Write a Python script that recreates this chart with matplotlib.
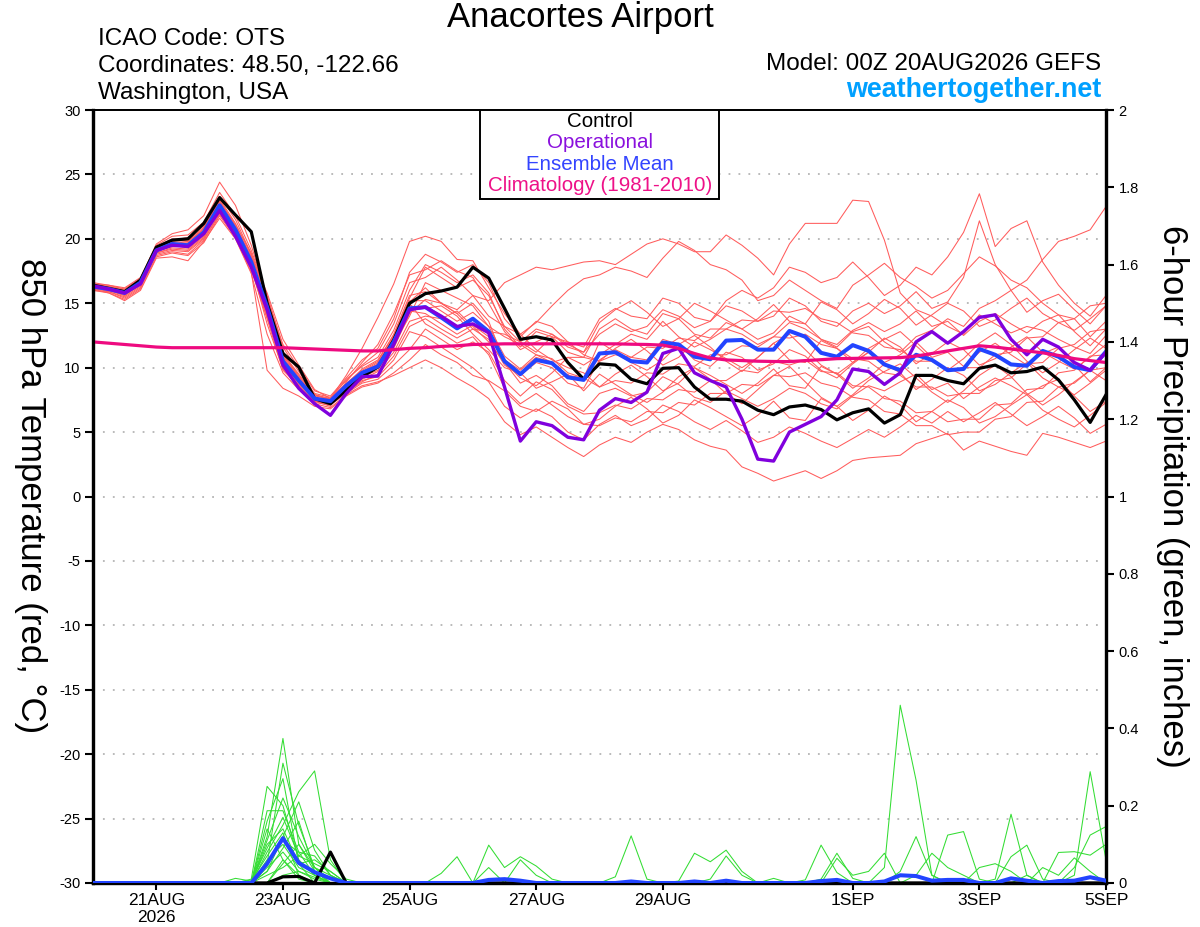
import matplotlib
matplotlib.use("Agg")
import matplotlib.pyplot as plt
from matplotlib.patches import Rectangle
import numpy as np

plt.rcParams['font.family'] = ['Liberation Sans', 'DejaVu Sans']
plt.rcParams['axes.unicode_minus'] = False

# x axis: days since 00Z 20AUG2026, 6-hourly steps
tick_days = [1, 3, 5, 7, 9, 12, 14, 16]
tick_labels = ["21AUG\n2026", "23AUG", "25AUG", "27AUG", "29AUG", "1SEP", "3SEP", "5SEP"]

temp_ticks = list(range(-30, 31, 5))
precip_ticks = [0, 0.2, 0.4, 0.6, 0.8, 1.0, 1.2, 1.4, 1.6, 1.8, 2.0]
precip_tick_labels = ["0", "0.2", "0.4", "0.6", "0.8", "1", "1.2", "1.4", "1.6", "1.8", "2"]

# 850 hPa temperature (C)
control = [16.4, 16.15, 15.9, 16.8, 19.35, 19.9, 20.0, 21.2, 23.2, 21.85, 20.55, 15.0, 11.1, 10.05, 7.6, 7.2,
           8.25, 9.3, 10.05, 12.15, 15.0, 15.75, 15.95, 16.25, 17.8, 16.95, 14.6, 12.2, 12.4, 12.15, 10.4, 9.1,
           10.3, 10.2, 9.1, 8.75, 9.95, 10.0, 8.5, 7.55, 7.55, 7.4, 6.7, 6.35, 6.95, 7.1, 6.75, 5.95,
           6.5, 6.8, 5.7, 6.35, 9.4, 9.4, 9.0, 8.75, 9.95, 10.2, 9.6, 9.7, 10.05, 9.05, 7.5, 5.75, 7.9]

operational = [16.35, 16.1, 15.8, 16.5, 19.1, 19.5, 19.4, 20.4, 22.2, 20.2, 17.8, 14.5, 10.2, 8.4, 7.2, 6.3,
               8.0, 9.3, 9.35, 11.8, 14.5, 14.7, 14.0, 13.2, 13.4, 12.7, 8.5, 4.3, 5.8, 5.5, 4.6, 4.4,
               6.7, 7.6, 7.3, 8.1, 11.1, 11.5, 9.6, 9.0, 8.5, 6.0, 2.9, 2.75, 5.0, 5.6, 6.2, 7.5,
               9.9, 9.7, 8.7, 9.6, 12.0, 12.8, 11.9, 12.8, 13.9, 14.1, 12.2, 11.0, 12.2, 11.6, 10.4, 9.8, 11.2]

ens_mean = [16.3, 16.1, 15.8, 16.6, 19.1, 19.6, 19.5, 20.5, 22.6, 20.7, 18.2, 14.7, 10.5, 9.0, 7.6, 7.4,
            8.6, 9.6, 10.1, 12.0, 14.6, 14.7, 13.9, 13.05, 13.8, 12.8, 10.5, 9.5, 10.6, 10.35, 9.25, 9.05,
            11.1, 11.2, 10.5, 10.4, 11.95, 11.8, 10.85, 10.65, 12.1, 12.15, 11.4, 11.4, 12.85, 12.4, 11.15, 10.85,
            11.75, 11.3, 10.25, 9.8, 11.0, 10.6, 9.8, 9.9, 11.45, 11.0, 10.25, 10.15, 11.3, 10.85, 10.05, 9.8, 11.25]

climatology = [12.0, 11.9, 11.8, 11.7, 11.6, 11.55, 11.55, 11.55, 11.55, 11.55, 11.55, 11.55, 11.55, 11.5, 11.45, 11.4,
               11.35, 11.3, 11.3, 11.4, 11.5, 11.55, 11.65, 11.7, 11.8, 11.82, 11.85, 11.85, 11.85, 11.85, 11.85, 11.85,
               11.85, 11.85, 11.82, 11.8, 11.75, 11.5, 11.1, 10.75, 10.6, 10.55, 10.5, 10.48, 10.47, 10.55, 10.62, 10.7,
               10.72, 10.74, 10.76, 10.78, 10.9, 11.1, 11.3, 11.5, 11.7, 11.6, 11.45, 11.3, 11.15, 10.95, 10.7, 10.55, 10.4]

members = [
    [16.4, 16.2, 15.9, 16.8, 19.3, 19.9, 20.1, 21.0, 23.3, 21.5, 18.8, 15.2, 11.0, 9.4, 7.9, 7.5,
     8.3, 9.2, 10.1, 11.5, 14.2, 15.3, 15.0, 14.5, 15.6, 15.2, 16.6, 17.2, 17.8, 17.6, 17.9, 18.2,
     18.3, 18.0, 18.8, 19.6, 20.0, 19.6, 19.0, 19.0, 20.3, 19.5, 18.5, 17.2, 19.6, 21.2, 21.2, 21.2,
     23.0, 22.9, 19.9, 15.8, 14.5, 14.0, 13.2, 12.6, 14.1, 13.4, 12.7, 13.2, 12.9, 12.2, 11.6, 11.1, 12.5],
    [16.2, 16.0, 15.6, 16.5, 19.0, 19.4, 19.6, 20.8, 23.0, 21.0, 18.6, 15.8, 12.2, 10.2, 8.3, 7.6,
     9.4, 11.5, 13.9, 16.5, 19.8, 20.2, 19.8, 18.4, 18.3, 16.2, 14.2, 12.6, 13.5, 14.8, 16.0, 16.9,
     17.2, 17.8, 17.5, 17.0, 18.5, 19.8, 19.1, 18.0, 17.6, 16.8, 15.2, 15.6, 16.8, 16.0, 15.2, 14.6,
     16.4, 17.2, 18.1, 17.0, 16.3, 15.4, 16.0, 17.3, 18.6, 17.9, 16.8, 16.2, 15.0, 14.1, 13.8, 12.4, 13.6],
    [16.5, 16.3, 16.1, 16.9, 19.6, 20.4, 20.7, 21.8, 24.4, 22.6, 19.5, 15.4, 11.3, 9.1, 7.4, 7.0,
     8.9, 10.4, 11.8, 14.2, 17.2, 17.6, 18.3, 17.5, 17.0, 15.0, 12.8, 11.4, 12.0, 12.6, 11.8, 11.2,
     12.6, 13.4, 12.8, 13.2, 14.5, 14.0, 13.1, 13.6, 15.2, 16.0, 15.4, 16.2, 17.8, 17.4, 16.6, 17.0,
     18.2, 17.0, 15.6, 16.4, 17.8, 17.2, 18.6, 20.5, 23.5, 19.4, 20.8, 21.4, 18.2, 16.4, 15.0, 14.0, 15.6],
    [16.1, 15.8, 15.2, 16.0, 18.5, 18.6, 18.3, 19.8, 21.6, 20.0, 17.3, 12.6, 9.6, 8.3, 7.2, 6.9,
     7.9, 8.6, 8.9, 9.4, 10.0, 10.6, 10.0, 9.2, 8.5, 7.6, 5.8, 4.8, 5.4, 4.6, 3.8, 3.1,
     4.0, 4.6, 4.2, 5.0, 5.6, 5.2, 4.4, 3.9, 3.6, 2.3, 1.8, 1.2, 1.6, 2.0, 1.4, 2.0,
     2.8, 3.0, 3.1, 3.2, 4.1, 4.5, 4.9, 3.6, 4.3, 3.9, 3.5, 3.2, 4.9, 4.6, 4.2, 3.8, 4.3],
    [16.3, 16.0, 15.6, 16.4, 18.8, 19.1, 19.0, 20.0, 22.0, 20.2, 17.6, 13.8, 9.8, 8.6, 7.4, 7.2,
     8.2, 9.0, 9.3, 10.6, 12.8, 12.4, 11.6, 10.8, 10.0, 8.9, 7.0, 6.1, 6.8, 6.2, 5.0, 4.4,
     5.6, 6.3, 5.5, 6.0, 7.1, 6.6, 5.8, 5.2, 5.9, 5.1, 4.2, 4.6, 5.4, 4.9, 4.3, 3.8,
     4.5, 5.2, 4.6, 5.4, 6.3, 5.7, 6.6, 5.8, 6.5, 7.3, 6.4, 5.5, 6.2, 7.0, 6.1, 4.9, 5.6],
    [16.2, 16.1, 15.9, 16.7, 19.2, 19.8, 19.9, 20.9, 22.9, 20.6, 18.0, 14.4, 10.4, 8.8, 7.6, 7.3,
     8.5, 9.4, 10.0, 12.2, 15.0, 13.4, 12.7, 11.9, 12.4, 11.0, 8.4, 7.2, 8.0, 7.1, 6.2, 5.6,
     6.0, 7.0, 7.7, 6.8, 5.7, 6.3, 7.5, 6.9, 6.2, 5.5, 6.3, 7.4, 6.1, 5.9, 7.6, 7.0,
     5.9, 6.7, 7.8, 7.1, 5.8, 6.6, 7.5, 6.9, 5.7, 6.2, 7.1, 7.9, 6.7, 6.0, 5.4, 6.3, 7.3],
    [16.4, 16.2, 16.0, 16.6, 19.0, 19.5, 19.3, 20.3, 22.4, 20.9, 18.4, 15.0, 10.8, 9.2, 7.8, 7.6,
     8.8, 9.8, 10.5, 12.6, 15.6, 15.9, 15.0, 14.2, 15.0, 13.6, 10.4, 8.8, 9.4, 8.6, 7.2, 6.6,
     8.0, 8.4, 7.8, 8.1, 9.3, 8.7, 7.7, 7.3, 8.2, 7.6, 7.0, 7.6, 8.4, 8.0, 7.2, 6.8,
     7.8, 8.6, 8.2, 8.9, 9.5, 8.3, 8.8, 7.6, 8.5, 9.2, 8.6, 7.9, 8.6, 9.1, 7.8, 6.6, 7.4],
    [16.0, 15.9, 15.5, 16.3, 18.7, 19.0, 18.8, 19.9, 21.9, 20.3, 17.8, 14.0, 10.1, 8.6, 7.3, 7.1,
     8.0, 8.8, 9.1, 10.2, 11.4, 13.0, 12.2, 11.4, 12.0, 11.2, 9.0, 7.8, 8.9, 8.3, 7.0, 6.4,
     6.5, 7.1, 6.8, 7.6, 7.5, 8.3, 8.1, 9.0, 9.0, 9.8, 9.6, 10.5, 10.2, 10.6, 9.7, 9.6,
     8.6, 8.5, 7.6, 7.4, 6.5, 6.6, 5.8, 6.0, 6.0, 7.1, 7.2, 8.3, 8.4, 9.6, 9.8, 10.9, 11.0],
    [16.3, 16.1, 15.8, 16.6, 19.1, 19.7, 19.6, 20.6, 22.7, 20.8, 18.3, 14.9, 10.6, 9.0, 7.5, 7.3,
     8.6, 9.5, 10.2, 12.1, 14.8, 14.6, 14.8, 14.0, 12.6, 11.4, 10.0, 9.6, 8.4, 8.9, 9.5, 8.2,
     9.5, 8.7, 7.9, 7.3, 8.1, 9.3, 10.0, 9.1, 8.0, 7.2, 8.3, 9.4, 10.1, 8.9, 7.7, 7.0,
     7.9, 9.0, 9.7, 10.3, 9.2, 8.1, 7.3, 8.2, 9.4, 10.2, 9.3, 8.0, 7.1, 7.9, 8.9, 9.8, 9.0],
    [16.5, 16.4, 16.2, 17.0, 19.5, 20.2, 20.3, 21.3, 23.6, 21.8, 19.1, 15.6, 11.6, 9.7, 8.0, 7.7,
     9.0, 10.2, 11.2, 13.4, 16.6, 17.0, 17.8, 16.8, 15.6, 14.0, 13.2, 12.6, 11.4, 10.6, 10.0, 9.6,
     8.5, 9.5, 10.2, 9.3, 8.2, 8.8, 10.0, 9.4, 8.7, 8.0, 8.8, 9.9, 8.6, 8.4, 10.1, 9.5,
     8.4, 9.2, 10.3, 9.6, 8.3, 9.1, 10.0, 9.4, 8.2, 8.7, 9.6, 10.4, 9.2, 8.5, 7.9, 8.8, 9.8],
    [16.2, 15.9, 15.4, 16.2, 18.9, 19.2, 19.1, 20.1, 22.2, 20.5, 17.9, 13.4, 9.9, 8.5, 7.4, 7.2,
     8.1, 8.9, 9.5, 10.9, 13.2, 13.8, 13.0, 12.3, 13.0, 12.2, 10.2, 9.4, 10.4, 10.0, 8.8, 8.4,
     10.6, 11.4, 10.8, 10.6, 12.2, 11.8, 10.6, 10.1, 11.2, 10.8, 9.8, 10.3, 11.4, 10.9, 9.8, 9.2,
     10.3, 11.2, 10.4, 11.0, 12.0, 10.8, 11.2, 10.1, 11.2, 11.9, 11.0, 10.2, 11.1, 11.6, 10.2, 8.9, 10.0],
    [16.3, 16.2, 15.9, 16.7, 19.3, 19.6, 19.8, 20.7, 22.8, 20.9, 18.5, 14.8, 10.9, 9.3, 7.9, 7.5,
     8.7, 9.7, 10.4, 12.4, 15.2, 15.2, 14.4, 13.6, 14.3, 13.2, 10.9, 9.9, 11.0, 10.7, 9.6, 9.2,
     8.5, 9.0, 8.8, 9.6, 9.5, 10.3, 10.1, 11.0, 11.0, 11.7, 11.6, 12.4, 12.3, 12.6, 11.8, 11.5,
     10.7, 10.5, 9.6, 9.4, 8.5, 8.5, 7.8, 8.0, 8.0, 9.0, 9.2, 10.3, 10.4, 11.5, 11.8, 12.8, 13.0],
    [16.4, 16.1, 15.7, 16.5, 19.0, 19.5, 19.4, 20.4, 22.5, 20.6, 18.1, 14.6, 10.3, 8.9, 7.7, 7.4,
     8.4, 9.3, 9.8, 11.6, 14.4, 14.2, 13.4, 12.6, 13.3, 12.4, 10.6, 9.8, 10.8, 10.4, 9.4, 9.2,
     12.0, 11.2, 10.4, 9.8, 10.6, 11.8, 12.5, 11.6, 10.5, 9.7, 10.8, 11.9, 12.6, 11.4, 10.2, 9.5,
     10.4, 11.5, 12.2, 12.8, 11.7, 10.6, 9.8, 10.7, 11.9, 12.7, 11.8, 10.5, 9.6, 10.4, 11.4, 12.3, 11.5],
    [16.1, 16.0, 15.8, 16.6, 19.2, 19.6, 19.5, 20.5, 22.6, 20.7, 18.2, 14.1, 10.0, 8.7, 7.5, 7.2,
     8.6, 9.6, 10.3, 12.3, 15.1, 16.2, 15.0, 14.2, 13.0, 12.8, 12.6, 12.0, 11.2, 12.4, 12.0, 11.0,
     10.5, 11.5, 12.2, 11.3, 10.2, 10.8, 12.0, 11.4, 10.7, 10.0, 10.8, 11.9, 10.6, 10.4, 12.1, 11.5,
     10.4, 11.2, 12.3, 11.6, 10.3, 11.1, 12.0, 11.4, 10.2, 10.7, 11.6, 12.4, 11.2, 10.5, 9.9, 10.8, 11.8],
    [16.6, 16.4, 16.1, 16.9, 19.4, 20.0, 20.0, 21.1, 23.1, 21.2, 18.7, 15.3, 11.1, 9.5, 7.9, 7.6,
     9.1, 10.1, 10.8, 12.9, 16.0, 18.0, 17.4, 16.6, 17.2, 15.8, 13.0, 11.6, 12.8, 12.4, 11.2, 10.8,
     13.0, 13.8, 13.0, 12.6, 14.2, 13.8, 12.6, 12.3, 13.5, 13.0, 12.2, 12.7, 14.0, 13.4, 12.2, 11.8,
     12.9, 13.5, 12.8, 13.4, 14.4, 13.2, 13.6, 12.5, 13.6, 14.2, 13.4, 12.7, 13.6, 14.1, 12.8, 11.7, 13.0],
    [16.2, 16.0, 15.7, 16.4, 18.9, 19.3, 19.2, 20.2, 22.3, 20.4, 17.7, 13.9, 10.2, 8.8, 7.6, 7.4,
     8.3, 9.1, 9.7, 11.2, 13.6, 14.0, 13.8, 14.4, 13.2, 12.0, 10.4, 9.2, 8.6, 9.6, 10.8, 10.8,
     10.5, 11.0, 10.8, 11.6, 11.5, 12.3, 12.1, 13.0, 13.0, 13.7, 13.6, 14.4, 14.3, 14.6, 13.8, 13.5,
     12.7, 12.5, 11.6, 11.4, 10.5, 10.5, 9.8, 10.0, 10.0, 11.0, 11.2, 12.3, 12.4, 13.5, 13.8, 14.8, 15.0],
    [16.3, 16.2, 15.9, 16.8, 19.4, 19.9, 19.8, 20.8, 22.9, 21.1, 18.9, 15.5, 11.8, 10.0, 8.2, 7.8,
     9.2, 10.6, 11.5, 13.8, 17.4, 18.8, 18.2, 17.4, 18.0, 16.6, 13.8, 12.4, 13.6, 13.2, 12.0, 11.6,
     13.8, 14.6, 14.0, 13.8, 15.4, 15.0, 13.9, 13.6, 14.8, 14.4, 13.6, 14.0, 15.4, 14.8, 13.6, 13.2,
     14.4, 15.0, 14.2, 14.8, 15.9, 14.6, 15.1, 17.0, 21.4, 18.0, 16.0, 14.3, 15.2, 15.7, 14.5, 13.4, 14.8],
    [16.4, 16.3, 16.0, 16.7, 19.1, 19.6, 19.7, 20.6, 22.6, 20.8, 18.4, 14.5, 10.7, 9.1, 7.7, 7.5,
     8.7, 9.9, 10.6, 12.5, 15.4, 17.8, 17.0, 16.2, 16.8, 15.6, 13.2, 12.0, 13.0, 12.6, 11.6, 11.2,
     13.5, 14.5, 15.2, 14.3, 13.2, 13.8, 15.0, 14.4, 13.7, 13.0, 13.8, 14.9, 13.6, 13.4, 15.1, 14.5,
     13.4, 14.2, 15.3, 14.6, 13.3, 14.1, 15.0, 14.4, 13.2, 13.7, 14.6, 15.4, 14.2, 13.5, 12.9, 13.8, 14.8],
    [16.0, 15.8, 15.3, 16.1, 18.6, 18.9, 18.7, 19.7, 21.8, 20.1, 17.4, 9.8, 8.4, 7.8, 7.0, 6.8,
     7.8, 8.5, 8.8, 9.6, 10.6, 11.8, 11.0, 10.4, 9.4, 9.0, 8.2, 7.0, 6.6, 7.4, 6.8, 5.6,
     5.5, 6.1, 5.8, 6.6, 6.5, 7.3, 7.1, 8.0, 8.0, 8.7, 8.6, 9.4, 9.3, 9.6, 8.8, 8.5,
     7.7, 7.5, 6.6, 6.4, 5.5, 5.5, 4.8, 5.0, 5.0, 6.0, 6.2, 7.3, 7.4, 8.5, 8.8, 9.8, 10.0],
    [16.3, 16.1, 15.8, 16.5, 19.0, 19.5, 19.5, 20.4, 22.4, 20.6, 18.3, 14.3, 10.5, 9.0, 7.6, 7.4,
     8.5, 9.4, 10.0, 11.8, 14.0, 16.6, 16.0, 15.4, 14.8, 13.2, 12.4, 11.8, 11.0, 10.4, 10.8, 10.2,
     11.0, 11.8, 12.6, 12.2, 13.6, 12.4, 11.6, 12.2, 13.0, 12.6, 11.8, 12.4, 13.5, 13.0, 12.2, 11.6,
     12.8, 13.2, 12.0, 11.2, 12.4, 12.9, 13.8, 13.2, 14.6, 15.2, 16.0, 16.8, 18.4, 19.8, 20.2, 20.7, 22.5],
]

# 6-hour precipitation (inches), only non-zero steps listed
precip_members = [
    {10: 0.01, 11: 0.25, 12: 0.2, 13: 0.06, 14: 0.02, 22: 0.025, 23: 0.068},
    {11: 0.12, 12: 0.374, 13: 0.1, 14: 0.03, 25: 0.098, 26: 0.04, 27: 0.068, 28: 0.044, 29: 0.01},
    {11: 0.05, 12: 0.31, 13: 0.15, 14: 0.04, 15: 0.01, 25: 0.04, 27: 0.06, 28: 0.02},
    {11: 0.08, 12: 0.15, 13: 0.236, 14: 0.29, 15: 0.06, 33: 0.016, 34: 0.122, 35: 0.01},
    {11: 0.187, 12: 0.187, 13: 0.08, 14: 0.02, 37: 0.005, 38: 0.077, 39: 0.055, 40: 0.085, 41: 0.03},
    {11: 0.03, 12: 0.12, 13: 0.21, 14: 0.085, 15: 0.02, 39: 0.01, 40: 0.07, 41: 0.02, 43: 0.012},
    {11: 0.1, 12: 0.14, 13: 0.05, 14: 0.06, 15: 0.03, 45: 0.008, 46: 0.098, 47: 0.027},
    {11: 0.06, 12: 0.1, 13: 0.04, 14: 0.02, 46: 0.01, 47: 0.077, 48: 0.012},
    {10: 0.005, 11: 0.09, 12: 0.17, 13: 0.07, 14: 0.05, 15: 0.03, 47: 0.064, 48: 0.02, 49: 0.03, 50: 0.077},
    {11: 0.04, 12: 0.08, 13: 0.03, 14: 0.01, 50: 0.04, 51: 0.46, 52: 0.266, 53: 0.02},
    {11: 0.14, 12: 0.06, 13: 0.02, 51: 0.03, 52: 0.12, 53: 0.02},
    {12: 0.05, 13: 0.1, 14: 0.04, 15: 0.02, 52: 0.02, 53: 0.077, 54: 0.04, 55: 0.02},
    {9: 0.012, 10: 0.005, 11: 0.07, 12: 0.13, 13: 0.02, 54: 0.124, 55: 0.133, 56: 0.01},
    {11: 0.02, 12: 0.04, 13: 0.07, 14: 0.1, 15: 0.05, 16: 0.01, 57: 0.01, 58: 0.178, 59: 0.02},
    {11: 0.11, 12: 0.22, 13: 0.12, 14: 0.04, 58: 0.068, 59: 0.098, 60: 0.01},
    {12: 0.02, 13: 0.03, 14: 0.015, 59: 0.02, 61: 0.079, 62: 0.081, 63: 0.072, 64: 0.1},
    {11: 0.03, 12: 0.09, 13: 0.16, 14: 0.03, 62: 0.02, 63: 0.288, 64: 0.06},
    {11: 0.16, 12: 0.27, 13: 0.05, 62: 0.04, 63: 0.124, 64: 0.146},
    {12: 0.06, 13: 0.01, 56: 0.04, 57: 0.05, 58: 0.03},
    {11: 0.05, 12: 0.11, 13: 0.08, 14: 0.07, 15: 0.02, 60: 0.04, 61: 0.02, 62: 0.065, 63: 0.03},
]
precip_mean = {11: 0.05, 12: 0.116, 13: 0.052, 14: 0.028, 15: 0.012, 25: 0.008, 26: 0.01, 27: 0.006,
               34: 0.004, 38: 0.004, 40: 0.006, 46: 0.005, 47: 0.008, 50: 0.004, 51: 0.02, 52: 0.018,
               53: 0.006, 54: 0.008, 55: 0.008, 58: 0.012, 59: 0.006, 61: 0.005, 62: 0.006, 63: 0.015, 64: 0.006}
precip_control = {12: 0.016, 13: 0.017, 15: 0.08}

n_steps = 65
days = np.arange(n_steps) * 0.25


def sparse_series(values):
    out = np.zeros(n_steps)
    for k, v in values.items():
        out[k] = v
    return out


fig = plt.figure(figsize=(12, 9.27), dpi=100)
ax = fig.add_axes([93 / 1200, 1 - 883 / 927, 1013 / 1200, 773 / 927])
ax2 = ax.twinx()

for v in range(-25, 30, 5):
    ax.axhline(v, color='#b4b4b4', lw=1.3, ls=(0, (1, 4.5)), zorder=0)

for m in members:
    assert len(m) == n_steps
    ax.plot(days, m, color='#ff5c5c', lw=0.75, zorder=2)
ax.plot(days, control, color='black', lw=2.3, zorder=4)
ax.plot(days, ens_mean, color='#2244ff', lw=2.9, zorder=5)
ax.plot(days, operational, color='#8000dd', lw=2.4, zorder=6)
ax.plot(days, climatology, color='#ee0a80', lw=2.3, zorder=7)

for p in precip_members:
    ax2.plot(days, sparse_series(p), color='#33dd33', lw=0.75, zorder=2)
ax2.plot(days, sparse_series(precip_control), color='black', lw=2.3, zorder=4)
ax2.plot(days, sparse_series(precip_mean), color='#2244ff', lw=2.9, zorder=5)

ax.set_xlim(0, 16)
ax.set_ylim(-30, 30)
ax2.set_ylim(0, 2)
ax.set_xticks(tick_days)
ax.set_xticklabels(tick_labels)
ax.set_yticks(temp_ticks)
ax2.set_yticks(precip_ticks)
ax2.set_yticklabels(precip_tick_labels)

ax.tick_params(axis='y', direction='out', length=6, width=1.5, labelsize=10.5, pad=3)
ax.tick_params(axis='x', direction='out', length=5, width=1.5, labelsize=12.5, pad=2)
ax2.tick_params(axis='y', direction='out', length=6, width=1.5, labelsize=10.5, pad=3)

for a in (ax, ax2):
    for side in ('left', 'right', 'bottom'):
        a.spines[side].set_linewidth(2.3)
    a.spines['top'].set_linewidth(1.3)

# colour-text legend box
ax2.add_patch(Rectangle((387 / 1013, 684 / 773), 239 / 1013, 89 / 773, transform=ax.transAxes,
                        facecolor='white', edgecolor='black', lw=1.4, zorder=10))
legend_items = [("Control", 'black'), ("Operational", '#8a10dd'),
                ("Ensemble Mean", '#3344ff'), ("Climatology (1981-2010)", '#ee1188')]
for i, (txt, col) in enumerate(legend_items):
    ax2.text(507 / 1013, (762 - 21.5 * i) / 773, txt, color=col, fontsize=14.8,
             ha='center', va='center', transform=ax.transAxes, zorder=11)

fig.text(30 / 1200, 1 - 496 / 927, "850 hPa Temperature (red, °C)", rotation=270,
         ha='center', va='center', fontsize=25)
fig.text(1172 / 1200, 1 - 496 / 927, "6-hour Precipitation (green, inches)", rotation=270,
         ha='center', va='center', fontsize=25)

fig.text(580 / 1200, 1 - 18 / 927, "Anacortes Airport", ha='center', va='center', fontsize=25)
fig.text(98 / 1200, 1 - 39 / 927, "ICAO Code: OTS", ha='left', va='center', fontsize=17.5)
fig.text(98 / 1200, 1 - 66 / 927, "Coordinates: 48.50, -122.66", ha='left', va='center', fontsize=17.5)
fig.text(98 / 1200, 1 - 93 / 927, "Washington, USA", ha='left', va='center', fontsize=17.5)
fig.text(1101 / 1200, 1 - 64 / 927, "Model: 00Z 20AUG2026 GEFS", ha='right', va='center', fontsize=17.5)
fig.text(1101 / 1200, 1 - 90 / 927, "weathertogether.net", ha='right', va='center', fontsize=19.4,
         fontweight='bold', color='#00a0ff')

fig.savefig("out.png", dpi=100)
